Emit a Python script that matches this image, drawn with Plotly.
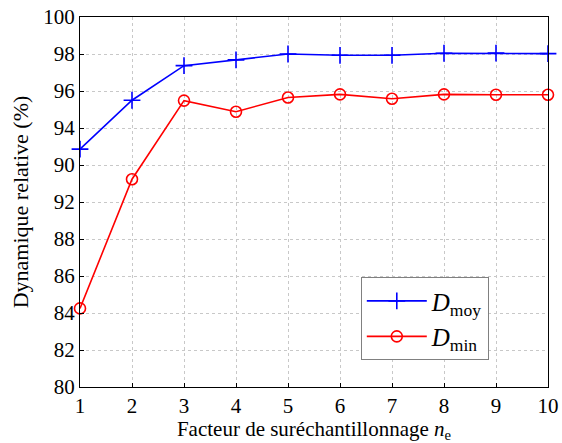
import plotly.graph_objects as go

n_e = [1, 2, 3, 4, 5, 6, 7, 8, 9, 10]
d_moy = [92.86, 95.5, 97.37, 97.68, 98.0, 97.93, 97.93, 98.04, 98.05, 98.02]
d_min = [84.25, 91.23, 95.48, 94.88, 95.65, 95.82, 95.58, 95.82, 95.80, 95.80]
y_tickvals = [80, 82, 84, 86, 88, 90, 92, 94, 96, 98, 100]
y_ticktext = ["80", "82", "84", "86", "88", "92", "90", "94", "96", "98", "100"]
x_tickvals = [1, 2, 3, 4, 5, 6, 7, 8, 9, 10]

FONT = "Liberation Serif"

fig = go.Figure()
fig.add_trace(go.Scatter(
    x=n_e, y=d_moy, mode="lines+markers", name="<i>D</i><sub>moy</sub>",
    line=dict(color="#0000ff", width=1.6),
    marker=dict(symbol="cross-thin", size=12, line=dict(color="#0000ff", width=1.6), color="#0000ff"),
    cliponaxis=False,
))
fig.add_trace(go.Scatter(
    x=n_e, y=d_min, mode="lines+markers", name="<i>D</i><sub>min</sub>",
    line=dict(color="#ff0000", width=1.6),
    marker=dict(symbol="circle-open", size=11, line=dict(color="#ff0000", width=1.6), color="#ff0000"),
    cliponaxis=False,
))

axis_common = dict(
    showline=True, linecolor="black", linewidth=1.2, mirror=True,
    ticks="inside", ticklen=4, tickcolor="black",
    showgrid=True, gridcolor="#c8c8c8", griddash="dot", gridwidth=1,
    zeroline=False, tickfont=dict(family=FONT, size=21, color="black"),
    automargin=False,
)

fig.update_layout(
    width=562, height=443,
    margin=dict(l=80, r=14, t=17, b=56),
    paper_bgcolor="white", plot_bgcolor="white",
    font=dict(family=FONT, size=21, color="black"),
    showlegend=True,
    legend=dict(
        x=0.60, y=0.297, xanchor="left", yanchor="top",
        bordercolor="#808080", borderwidth=1, bgcolor="white",
        font=dict(family=FONT, size=25), tracegroupgap=12,
        itemwidth=60,
    ),
    xaxis=dict(range=[1, 10], tickvals=x_tickvals,
               title=dict(text="Facteur de suréchantillonnage <i>n</i><sub>e</sub>", standoff=2,
                          font=dict(family=FONT, size=21)),
               **axis_common),
    yaxis=dict(range=[80, 100], tickvals=y_tickvals, ticktext=y_ticktext,
               title=dict(text="Dynamique relative (%)", standoff=8,
                          font=dict(family=FONT, size=22)),
               **axis_common),
)

fig.write_html("out.html", config={"displayModeBar": False},
               post_script="document.body.style.margin='0';")
